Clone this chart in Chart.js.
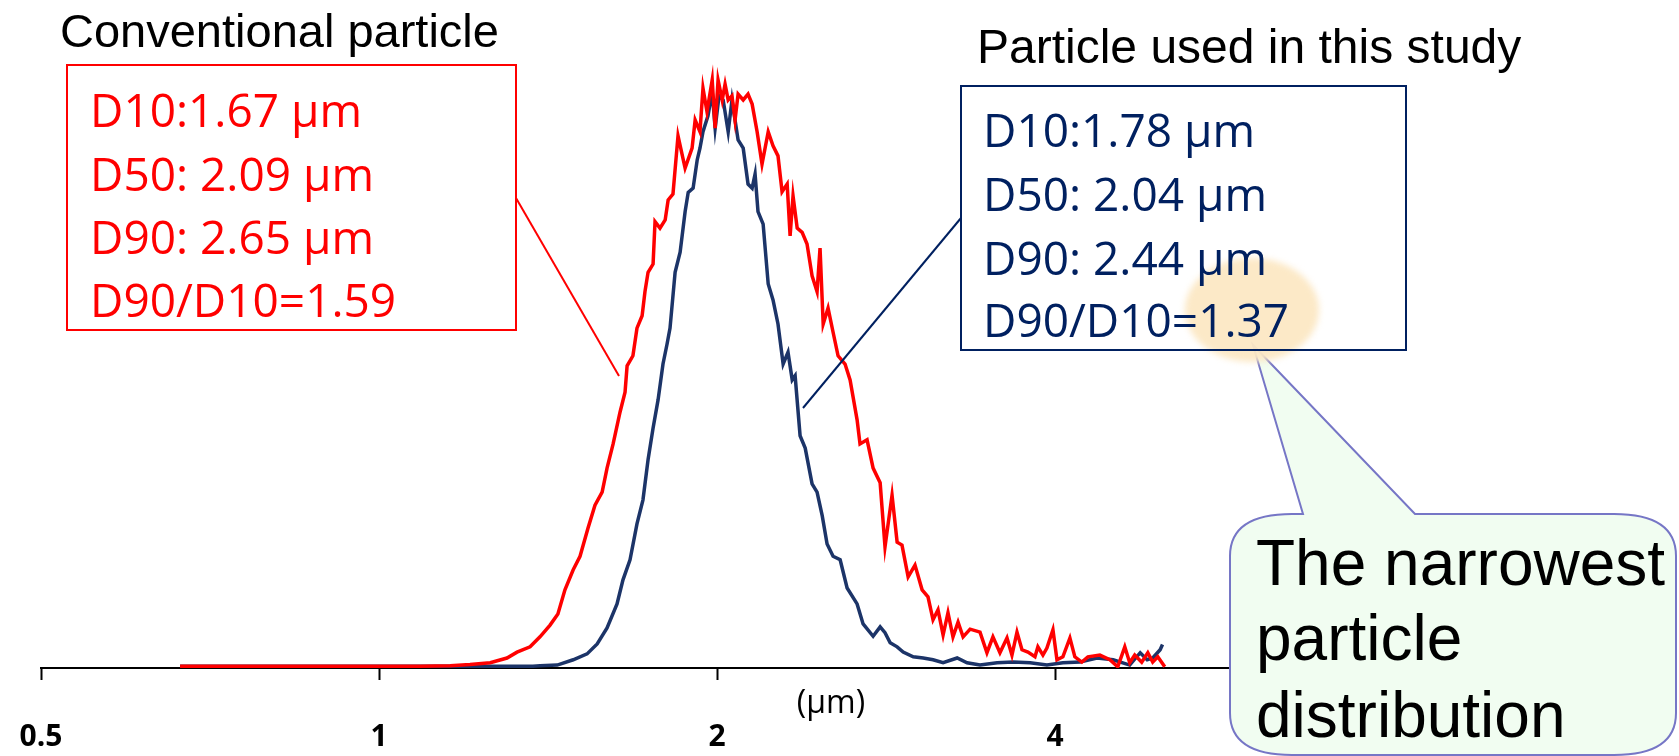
<!DOCTYPE html>
<html><head><meta charset="utf-8">
<script src="https://cdn.jsdelivr.net/npm/chart.js@4.4.1/dist/chart.umd.min.js"></script>
<style>html,body{margin:0;padding:0;background:#fff;}canvas{display:block;}</style>
</head><body>
<canvas id="c" width="1679" height="756"></canvas>
<script>
// ---- data ----
const tickValues = [0.5, 1, 2, 4];
const tickLabels = ['0.5', '1', '2', '4'];
const unitLabel = '(μm)';

// Conventional particle (red)
const redSizes = [
 0.665,0.850,1.088,1.157,1.205,1.256,1.300,1.327,1.363,1.391,
 1.420,1.443,1.464,1.489,1.510,1.535,1.557,1.580,1.596,1.616,
 1.639,1.656,1.663,1.683,1.697,1.715,1.725,1.736,1.754,1.761,
 1.779,1.798,1.809,1.827,1.846,1.873,1.900,1.912,1.931,1.943,
 1.959,1.980,1.992,2.004,2.021,2.033,2.046,2.062,2.075,2.088,
 2.110,2.131,2.149,2.171,2.193,2.221,2.243,2.266,2.285,2.309,
 2.323,2.337,2.357,2.381,2.405,2.430,2.455,2.470,2.486,2.511,
 2.537,2.563,2.600,2.627,2.665,2.681,2.720,2.754,2.794,2.822,
 2.863,2.893,2.922,2.959,3.001,3.045,3.082,3.114,3.146,3.179,
 3.211,3.244,3.278,3.312,3.360,3.429,3.478,3.521,3.572,3.624,
 3.661,3.699,3.737,3.783,3.838,3.861,3.901,3.933,3.982,4.015,
 4.064,4.123,4.165,4.225,4.278,4.384,4.475,4.548,4.614,4.661,
 4.709,4.777,4.837,4.886,4.937,5.008];
const redValues = [
 0.3,0.3,0.3,0.4,0.6,0.9,1.7,2.7,3.6,5.3,
 7.3,9.2,13.3,16.7,19.0,23.8,27.7,29.9,34.0,38.1,
 43.5,46.9,51.4,53.1,57.8,59.9,64.0,67.3,68.7,75.9,
 74.8,76.2,79.6,80.6,90.5,85.0,88.4,93.2,91.2,98.6,
 94.6,100,91.8,100,96.6,99.3,96.6,97.3,93.2,97.6,
 96.6,97.6,95.9,91.2,85.7,91.2,88.8,87.1,81.0,82.3,
 73.5,80.3,74.8,74.1,72.1,66.7,64.0,71.4,58.5,61.2,
 57.1,53.1,51.7,49.0,42.2,38.1,38.8,34.0,31.5,20.6,
 29.4,21.4,20.9,15.5,17.5,13.3,12.1,8.2,9.9,5.6,
 9.4,5.3,7.8,5.3,6.6,6.1,2.6,5.3,2.6,5.1,
 2.2,6.1,3.1,2.7,1.9,3.6,2.2,3.4,6.5,1.4,
 1.9,5.1,1.9,1.0,1.9,2.2,1.4,0.2,3.6,0.9,
 2.2,1.0,2.6,1.0,1.9,0.2];

// Particle used in this study (blue)
const blueSizes = [
 0.665,0.850,1.088,1.230,1.371,1.391,1.441,1.489,1.532,1.564,
 1.596,1.629,1.649,1.673,1.697,1.718,1.736,1.754,1.772,1.790,
 1.805,1.816,1.835,1.854,1.873,1.885,1.904,1.920,1.931,1.943,
 1.963,1.980,1.992,2.008,2.025,2.046,2.062,2.088,2.110,2.131,
 2.149,2.162,2.175,2.198,2.221,2.243,2.266,2.290,2.313,2.333,
 2.347,2.371,2.396,2.430,2.455,2.481,2.506,2.537,2.574,2.611,
 2.665,2.698,2.754,2.794,2.822,2.852,2.893,2.929,2.990,3.052,
 3.114,3.179,3.272,3.339,3.429,3.551,3.670,3.800,3.933,4.064,
 4.210,4.358,4.505,4.661,4.762,4.831,4.886,4.961,4.985];
const blueValues = [
 0.3,0.3,0.3,0.3,0.3,0.4,0.5,1.4,2.4,4.1,
 6.8,10.9,15.0,18.4,24.5,28.6,35.4,40.8,45.6,51.7,
 55.1,57.8,67.3,70.7,77.6,80.9,81.6,86.4,88.4,91.2,
 93.9,98.0,91.8,97.3,96.6,91.2,96.6,89.8,88.4,82.3,
 81.6,84.0,77.6,75.5,65.3,62.6,58.5,51.7,53.7,49.0,
 49.7,39.5,37.4,31.3,29.9,25.9,21.1,19.0,18.4,13.6,
 10.9,7.5,5.4,7.0,6.0,4.3,3.6,2.7,1.9,1.7,
 1.4,0.9,1.7,0.9,0.5,0.9,1.0,0.9,0.5,0.9,
 1.0,1.7,1.4,0.5,2.6,1.4,1.7,3.1,4.0];

const redTitle = 'Conventional particle';
const blueTitle = 'Particle used in this study';
const redStats = ['D10:1.67 μm', 'D50: 2.09 μm', 'D90: 2.65 μm', 'D90/D10=1.59'];
const blueStats = ['D10:1.78 μm', 'D50: 2.04 μm', 'D90: 2.44 μm', 'D90/D10=1.37'];
const calloutLines = ['The narrowest', 'particle', 'distribution'];

// ---- drawing ----
const RED = '#FF0000', NAVY = '#002060', BLUE_LINE = '#1c3468';

const annotations = {
  id: 'annotations',
  afterDraw(chart) {
    const ctx = chart.ctx;
    ctx.save();
    ctx.textBaseline = 'alphabetic';
    ctx.textAlign = 'left';

    // titles
    ctx.fillStyle = '#000';
    ctx.font = '47px "Liberation Sans", Arial, sans-serif';
    ctx.fillText(redTitle, 60, 47);
    ctx.font = '48px "Liberation Sans", Arial, sans-serif';
    ctx.fillText(blueTitle, 977, 63);

    // red box
    ctx.strokeStyle = RED; ctx.lineWidth = 2;
    ctx.strokeRect(67, 65, 449, 265);
    ctx.fillStyle = RED;
    ctx.font = '46px "Open Sans", sans-serif';
    [127, 191, 254, 317].forEach((y, i) => ctx.fillText(redStats[i], 90, y));
    ctx.beginPath(); ctx.moveTo(516, 198); ctx.lineTo(619, 376); ctx.stroke();

    // blue connector
    ctx.strokeStyle = NAVY; ctx.lineWidth = 2;
    ctx.beginPath(); ctx.moveTo(961, 218); ctx.lineTo(803, 408); ctx.stroke();

    // callout bubble
    const L = 1230, T = 514, R = 1676, B = 755, rx = 62, ry = 42;
    ctx.beginPath();
    ctx.moveTo(L, T + ry);
    ctx.quadraticCurveTo(L, T, L + rx, T);
    ctx.lineTo(1303, T); ctx.lineTo(1253, 345); ctx.lineTo(1415, T);
    ctx.lineTo(R - rx, T);
    ctx.quadraticCurveTo(R, T, R, T + ry);
    ctx.lineTo(R, B - ry);
    ctx.quadraticCurveTo(R, B, R - rx, B);
    ctx.lineTo(L + rx, B);
    ctx.quadraticCurveTo(L, B, L, B - ry);
    ctx.closePath();
    ctx.fillStyle = '#F1FDF1'; ctx.fill();
    ctx.strokeStyle = '#7676C6'; ctx.lineWidth = 2; ctx.stroke();
    ctx.fillStyle = '#000';
    ctx.font = '64px "Liberation Sans", Arial, sans-serif';
    [585, 660, 737].forEach((y, i) => ctx.fillText(calloutLines[i], 1256, y));

    // glow ellipse
    ctx.save();
    ctx.filter = 'blur(3px)';
    ctx.fillStyle = 'rgba(252,232,196,0.95)';
    ctx.beginPath(); ctx.ellipse(1252, 310, 67, 52, 0, 0, Math.PI * 2); ctx.fill();
    ctx.restore();

    // blue box
    ctx.strokeStyle = NAVY; ctx.lineWidth = 2;
    ctx.strokeRect(961, 86, 445, 264);
    ctx.fillStyle = NAVY;
    ctx.font = '46px "Open Sans", sans-serif';
    [147, 211, 275, 337].forEach((y, i) => ctx.fillText(blueStats[i], 983, y));

    // unit label
    ctx.fillStyle = '#000';
    ctx.font = '32px "Open Sans", sans-serif';
    ctx.textAlign = 'center'; ctx.textBaseline = 'middle';
    ctx.fillText(unitLabel, 831, 704);
    ctx.restore();
  }
};

new Chart(document.getElementById('c'), {
  type: 'line',
  data: {
    datasets: [
      { label: redTitle, data: redSizes.map((x, i) => ({ x, y: redValues[i] })),
        borderColor: RED, borderWidth: 3.5, pointRadius: 0, tension: 0, fill: false },
      { label: blueTitle, data: blueSizes.map((x, i) => ({ x, y: blueValues[i] })),
        borderColor: BLUE_LINE, borderWidth: 3.5, pointRadius: 0, tension: 0, fill: false }
    ]
  },
  options: {
    responsive: false, devicePixelRatio: 1, animation: false,
    layout: { padding: { left: 41, right: 400, top: 60, bottom: 0 } },
    plugins: { legend: { display: false }, tooltip: { enabled: false } },
    scales: {
      x: {
        type: 'logarithmic', min: 0.5, max: 6.33, position: 'bottom',
        afterBuildTicks: s => { s.ticks = tickValues.map(v => ({ value: v })); },
        afterFit: s => { s.height = 88; s.paddingLeft = 0; s.paddingRight = 0; },
        ticks: { callback: (v, i) => tickLabels[i], autoSkip: false, maxRotation: 0,
                 color: '#000', padding: 39,
                 font: { family: '"Open Sans", sans-serif', weight: 'bold', size: 30 } },
        grid: { display: true, drawOnChartArea: false, drawTicks: true, tickLength: 12,
                tickWidth: 2, tickColor: '#000', color: '#000' },
        border: { display: true, color: '#000', width: 2 }
      },
      y: { display: false, min: 0, max: 103.4 }
    }
  },
  plugins: [annotations]
});
</script>
</body></html>
